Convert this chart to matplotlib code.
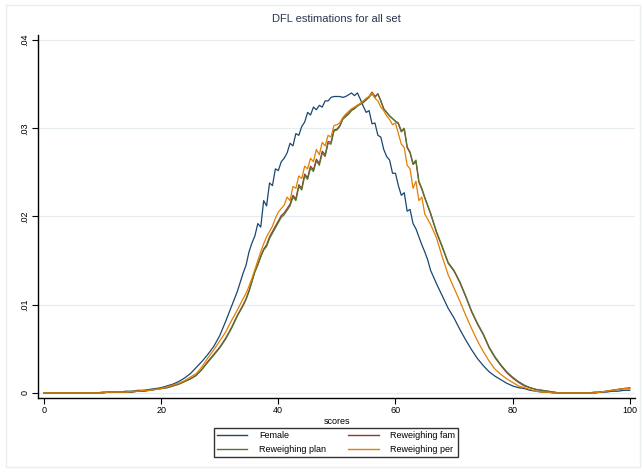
import numpy as np
import matplotlib
matplotlib.use('Agg')
import matplotlib.pyplot as plt
from matplotlib.patches import Rectangle
from matplotlib.lines import Line2D

plt.rcParams['font.family'] = ['Liberation Sans', 'DejaVu Sans']

# score grid: whole points in the tails, half points through the jagged middle
scores = np.concatenate([np.arange(0, 34), np.arange(34, 66.5, 0.5), np.arange(67, 101)])

female = [
    0.0000, 0.0000, 0.0000, 0.0000, 0.0000, 0.0000, 0.0000, 0.0000, 0.0000, 0.0000,
    0.0001, 0.0001, 0.0001, 0.0001, 0.0002, 0.0002, 0.0003, 0.0003, 0.0004, 0.0005,
    0.0006, 0.0008, 0.0010, 0.0013, 0.0017, 0.0022, 0.0029, 0.0036, 0.0044, 0.0053,
    0.0065, 0.0081, 0.0098, 0.0115,
    0.0136, 0.0145, 0.0160, 0.0170, 0.0178, 0.0192, 0.0188, 0.0218, 0.0212, 0.0238,
    0.0235, 0.0254, 0.0252, 0.0262, 0.0266, 0.0272, 0.0283, 0.0280, 0.0294, 0.0292,
    0.0302, 0.0307, 0.0318, 0.0315, 0.0324, 0.0321, 0.0326, 0.0324, 0.0331, 0.0331,
    0.0335, 0.0336, 0.0336, 0.0336, 0.0335, 0.0336, 0.0338, 0.0340, 0.0337, 0.0340,
    0.0333, 0.0325, 0.0318, 0.0320, 0.0305, 0.0306, 0.0292, 0.0290, 0.0276, 0.0268,
    0.0264, 0.0249, 0.0249, 0.0235, 0.0224, 0.0227, 0.0206, 0.0208, 0.0192, 0.0186,
    0.0177, 0.0168, 0.0160, 0.0151, 0.0139,
    0.0124, 0.0110, 0.0096, 0.0085, 0.0072, 0.0060, 0.0049, 0.0039, 0.0031, 0.0024,
    0.0019, 0.0015, 0.0011, 0.0008, 0.0006, 0.0005, 0.0003, 0.0002, 0.0001, 0.0001,
    0.0000, 0.0000, 0.0000, 0.0000, 0.0000, 0.0000, 0.0000, 0.0001, 0.0001, 0.0001,
    0.0002, 0.0002, 0.0003, 0.0003,
]

rew_fam = [
    0.0000, 0.0000, 0.0000, 0.0000, 0.0000, 0.0000, 0.0000, 0.0000, 0.0000, 0.0000,
    0.0000, 0.0001, 0.0001, 0.0001, 0.0001, 0.0001, 0.0002, 0.0002, 0.0003, 0.0004,
    0.0005, 0.0006, 0.0008, 0.0010, 0.0013, 0.0016, 0.0020, 0.0027, 0.0036, 0.0044,
    0.0052, 0.0062, 0.0074, 0.0088,
    0.0100, 0.0107, 0.0116, 0.0127, 0.0138, 0.0146, 0.0155, 0.0163, 0.0168, 0.0177,
    0.0183, 0.0189, 0.0195, 0.0201, 0.0204, 0.0209, 0.0214, 0.0224, 0.0220, 0.0236,
    0.0232, 0.0248, 0.0244, 0.0257, 0.0253, 0.0265, 0.0260, 0.0274, 0.0270, 0.0285,
    0.0284, 0.0298, 0.0299, 0.0303, 0.0311, 0.0314, 0.0317, 0.0321, 0.0323, 0.0326,
    0.0328, 0.0330, 0.0333, 0.0336, 0.0341, 0.0336, 0.0339, 0.0331, 0.0322, 0.0318,
    0.0314, 0.0311, 0.0308, 0.0305, 0.0296, 0.0299, 0.0278, 0.0272, 0.0259, 0.0262,
    0.0239, 0.0231, 0.0221, 0.0212, 0.0203,
    0.0182, 0.0165, 0.0147, 0.0138, 0.0125, 0.0109, 0.0092, 0.0078, 0.0066, 0.0051,
    0.0040, 0.0031, 0.0023, 0.0017, 0.0012, 0.0008, 0.0006, 0.0004, 0.0003, 0.0002,
    0.0001, 0.0000, 0.0000, 0.0000, 0.0000, 0.0000, 0.0000, 0.0000, 0.0001, 0.0002,
    0.0003, 0.0004, 0.0005, 0.0005,
]

rew_plan = [
    0.0000, 0.0000, 0.0000, 0.0000, 0.0000, 0.0000, 0.0000, 0.0000, 0.0000, 0.0000,
    0.0000, 0.0001, 0.0001, 0.0001, 0.0001, 0.0001, 0.0002, 0.0002, 0.0003, 0.0004,
    0.0005, 0.0006, 0.0008, 0.0010, 0.0013, 0.0016, 0.0020, 0.0027, 0.0035, 0.0043,
    0.0051, 0.0061, 0.0073, 0.0087,
    0.0099, 0.0106, 0.0115, 0.0126, 0.0137, 0.0145, 0.0154, 0.0162, 0.0166, 0.0175,
    0.0181, 0.0187, 0.0193, 0.0199, 0.0202, 0.0207, 0.0212, 0.0222, 0.0218, 0.0234,
    0.0230, 0.0246, 0.0242, 0.0255, 0.0251, 0.0263, 0.0258, 0.0272, 0.0268, 0.0283,
    0.0282, 0.0297, 0.0298, 0.0302, 0.0310, 0.0313, 0.0316, 0.0320, 0.0322, 0.0325,
    0.0327, 0.0329, 0.0332, 0.0335, 0.0339, 0.0335, 0.0339, 0.0331, 0.0322, 0.0318,
    0.0314, 0.0311, 0.0308, 0.0306, 0.0297, 0.0300, 0.0279, 0.0273, 0.0260, 0.0264,
    0.0240, 0.0232, 0.0222, 0.0213, 0.0204,
    0.0183, 0.0166, 0.0148, 0.0139, 0.0126, 0.0110, 0.0093, 0.0079, 0.0067, 0.0052,
    0.0041, 0.0032, 0.0024, 0.0018, 0.0013, 0.0009, 0.0006, 0.0004, 0.0003, 0.0002,
    0.0001, 0.0000, 0.0000, 0.0000, 0.0000, 0.0000, 0.0000, 0.0000, 0.0001, 0.0002,
    0.0003, 0.0004, 0.0005, 0.0006,
]

rew_per = [
    0.0000, 0.0000, 0.0000, 0.0000, 0.0000, 0.0000, 0.0000, 0.0000, 0.0000, 0.0000,
    0.0000, 0.0001, 0.0001, 0.0001, 0.0001, 0.0002, 0.0002, 0.0003, 0.0003, 0.0004,
    0.0005, 0.0007, 0.0009, 0.0011, 0.0014, 0.0018, 0.0022, 0.0030, 0.0040, 0.0049,
    0.0059, 0.0069, 0.0082, 0.0094,
    0.0107, 0.0113, 0.0121, 0.0130, 0.0140, 0.0150, 0.0160, 0.0169, 0.0177, 0.0183,
    0.0189, 0.0198, 0.0205, 0.0209, 0.0213, 0.0222, 0.0218, 0.0234, 0.0232, 0.0246,
    0.0243, 0.0257, 0.0254, 0.0266, 0.0262, 0.0276, 0.0270, 0.0284, 0.0280, 0.0292,
    0.0290, 0.0303, 0.0304, 0.0306, 0.0312, 0.0316, 0.0319, 0.0322, 0.0324, 0.0326,
    0.0328, 0.0331, 0.0334, 0.0336, 0.0340, 0.0334, 0.0331, 0.0324, 0.0320, 0.0314,
    0.0310, 0.0304, 0.0306, 0.0294, 0.0282, 0.0278, 0.0258, 0.0254, 0.0232, 0.0240,
    0.0218, 0.0222, 0.0203, 0.0197, 0.0191,
    0.0176, 0.0154, 0.0134, 0.0119, 0.0104, 0.0088, 0.0073, 0.0059, 0.0047, 0.0036,
    0.0027, 0.0021, 0.0016, 0.0012, 0.0008, 0.0006, 0.0004, 0.0002, 0.0001, 0.0001,
    0.0000, 0.0000, 0.0000, 0.0000, 0.0000, 0.0000, 0.0000, 0.0000, 0.0001, 0.0002,
    0.0003, 0.0004, 0.0005, 0.0005,
]

series = [
    ('Female', female, '#1a476f'),
    ('Reweighing fam', rew_fam, '#90353b'),
    ('Reweighing plan', rew_plan, '#55752f'),
    ('Reweighing per', rew_per, '#e37e00'),
]
yticks = [0, 0.01, 0.02, 0.03, 0.04]
ytick_labels = ['0', '.01', '.02', '.03', '.04']
xticks = [0, 20, 40, 60, 80, 100]

fig = plt.figure(figsize=(6.42, 4.72), dpi=100)
fig.patches.append(Rectangle((6 / 642, 1 - 467 / 472), 634 / 642, 462 / 472,
                             transform=fig.transFigure, fill=False,
                             edgecolor='#e6eef0', linewidth=1))
ax = fig.add_axes([38 / 642, 1 - 398 / 472, 597 / 642, 363 / 472])

handles = {}
for name, vals, col in series:
    ln, = ax.plot(scores, vals, color=col, linewidth=0.9)
    handles[name] = ln

ax.set_xlim(-1.03, 100.9)
ax.set_ylim(-0.00057, 0.04057)
ax.set_yticks(yticks)
ax.set_yticklabels(ytick_labels, rotation=90, va='center')
ax.set_xticks(xticks)
ax.tick_params(labelsize=6.5, length=4, width=0.8, color='black', pad=2)
ax.grid(axis='y', color='#e6eef0', linewidth=0.9)
ax.set_axisbelow(True)
for s in ['top', 'right']:
    ax.spines[s].set_visible(False)
for s in ['left', 'bottom']:
    ax.spines[s].set_linewidth(1.0)

ax.set_xlabel('scores', fontsize=6.5, labelpad=1)
ax.set_title('DFL estimations for all set', fontsize=8, color='#2a3550', pad=9)

order = ['Female', 'Reweighing plan', 'Reweighing fam', 'Reweighing per']
leg_handles = [Line2D([], [], color=handles[n].get_color(), linewidth=1.0) for n in order]
leg = fig.legend(leg_handles, order, loc='upper center', ncol=2,
                 bbox_to_anchor=(336 / 642, 1 - 423 / 472), fontsize=6.5,
                 frameon=True, fancybox=False, edgecolor='black',
                 handlelength=3.4, handletextpad=1.3, columnspacing=2.4,
                 labelspacing=0.6, borderpad=0.35)
leg.get_frame().set_linewidth(1.0)

fig.savefig('out.png', dpi=100)
